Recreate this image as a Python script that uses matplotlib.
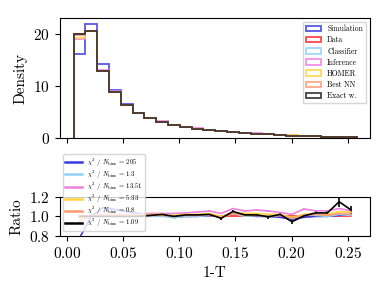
import numpy as np
import matplotlib
matplotlib.use('Agg')
import matplotlib.pyplot as plt
from matplotlib.lines import Line2D

plt.rcParams['font.family'] = 'serif'
plt.rcParams['font.serif'] = ['cmr10']
plt.rcParams['mathtext.fontset'] = 'cm'
plt.rcParams['axes.formatter.use_mathtext'] = True
plt.rcParams['font.size'] = 11

# bin edges of 1-T
edges = np.linspace(0.006, 0.258, 25)
centers = 0.5 * (edges[1:] + edges[:-1])

# densities
data = [20.0, 20.7, 12.9, 8.8, 6.3, 4.8, 3.8, 3.1, 2.5, 2.1, 1.8, 1.55,
        1.35, 1.15, 1.0, 0.85, 0.72, 0.6, 0.5, 0.42, 0.34, 0.27, 0.2, 0.15]
simulation = [16.2, 22.0, 14.2, 9.3, 6.6, 4.9, 3.85, 3.1, 2.5, 2.1, 1.8, 1.56,
              1.35, 1.18, 1.0, 0.85, 0.72, 0.6, 0.49, 0.42, 0.34, 0.27, 0.2, 0.15]
classifier = [19.9, 20.7, 12.9, 8.8, 6.3, 4.8, 3.8, 3.1, 2.5, 2.1, 1.8, 1.56,
              1.35, 1.16, 1.0, 0.85, 0.72, 0.6, 0.5, 0.42, 0.34, 0.27, 0.2, 0.15]
inference = [19.0, 20.7, 13.1, 9.0, 6.4, 4.9, 3.9, 3.2, 2.6, 2.2, 1.9, 1.63,
             1.39, 1.24, 1.06, 0.91, 0.76, 0.62, 0.51, 0.45, 0.36, 0.29, 0.22, 0.16]
homer = [19.3, 20.6, 13.0, 8.9, 6.4, 4.9, 3.8, 3.15, 2.55, 2.15, 1.84, 1.58,
         1.36, 1.2, 1.03, 0.87, 0.73, 0.59, 0.51, 0.43, 0.35, 0.28, 0.21, 0.16]
best_nn = [19.8, 20.6, 13.0, 8.8, 6.3, 4.8, 3.8, 3.1, 2.52, 2.12, 1.82, 1.57,
           1.35, 1.18, 1.01, 0.86, 0.72, 0.59, 0.5, 0.42, 0.34, 0.27, 0.2, 0.15]
exact = [20.0, 20.7, 12.9, 8.8, 6.3, 4.8, 3.84, 3.17, 2.5, 2.13, 1.83, 1.58,
         1.33, 1.21, 1.02, 0.86, 0.72, 0.61, 0.47, 0.42, 0.35, 0.28, 0.23, 0.16]

# ratios to data
r_sim = [0.78, 1.0, 1.09, 1.07, 1.05, 1.03, 1.02, 1.01, 0.99, 1.0, 1.0, 1.01,
         1.0, 1.03, 1.01, 1.0, 1.0, 0.99, 0.97, 0.99, 1.0, 1.0, 1.01, 1.02]
r_cls = [0.99, 1.0, 1.0, 1.0, 1.0, 1.0, 1.0, 1.0, 0.985, 1.0, 1.0, 1.01,
         1.0, 1.03, 1.0, 1.01, 1.0, 1.01, 0.98, 1.02, 1.01, 1.0, 1.02, 1.01]
r_inf = [0.95, 1.0, 1.02, 1.02, 1.02, 1.02, 1.03, 1.03, 1.03, 1.035, 1.045, 1.055,
         1.03, 1.08, 1.055, 1.065, 1.055, 1.04, 1.02, 1.075, 1.057, 1.057, 1.08, 1.057]
r_homer = [0.97, 1.0, 1.01, 1.01, 1.01, 1.01, 1.02, 1.02, 1.01, 1.02, 1.02, 1.03,
           1.0, 1.04, 1.03, 1.03, 1.02, 1.02, 0.99, 1.02, 1.03, 1.02, 1.05, 1.04]
r_nn = [0.99, 1.0, 1.01, 1.0, 1.0, 1.0, 1.01, 1.01, 1.0, 1.01, 1.01, 1.02,
        0.99, 1.03, 1.01, 1.01, 1.0, 1.01, 0.98, 1.01, 1.02, 1.01, 1.03, 1.02]
r_exact = [1.0, 1.0, 1.0, 1.0, 1.0, 1.0, 1.01, 1.02, 1.0, 1.015, 1.015, 1.02,
           0.98, 1.05, 1.015, 1.015, 0.995, 1.02, 0.945, 1.005, 1.035, 1.035, 1.15, 1.065]
r_exact_err = [0.003, 0.003, 0.004, 0.005, 0.006, 0.007, 0.008, 0.009, 0.01, 0.011, 0.012, 0.013,
               0.014, 0.015, 0.016, 0.017, 0.018, 0.019, 0.02, 0.022, 0.024, 0.027, 0.05, 0.04]
r_data = [1.0] * 24

chi2 = ['205', '1.3', '13.51', '5.33', '0.8', '1.09']

labels = ['Simulation', 'Data', 'Classifier', 'Inference', 'HOMER', 'Best NN', 'Exact w.']
colors = ['#3a3ae0', '#ff2a2a', '#8fd0fa', '#f07ee0', '#ffd23c', '#ff9a70', '#222222']
hists = [simulation, data, classifier, inference, homer, best_nn, exact]

fig = plt.figure(figsize=(3.89, 2.92), dpi=100)
ax1 = fig.add_axes([0.154, 0.527, 0.797, 0.411])
ax2 = fig.add_axes([0.154, 0.192, 0.797, 0.134])

for h, c, l in zip(hists, colors, labels):
    ax1.hist(centers, bins=edges, weights=h, histtype='step', color=c,
             label=l, lw=1.3, alpha=0.85)

ax1.set_ylabel('Density')
ax1.set_xlim(-0.0062, 0.2696)
ax1.set_yticks([0, 10, 20])
ax1.set_xticks([0.0, 0.05, 0.10, 0.15, 0.20, 0.25])
ax1.set_xticklabels([])
ax1.legend(loc='upper right', fontsize=5.5, labelspacing=0.35)

ratios = [r_sim, r_cls, r_inf, r_homer, r_nn]
rcols = [colors[0], colors[2], colors[3], colors[4], colors[5]]
ax2.plot(centers, r_data, color=colors[1], lw=1.2)
handles = []
for r, c, s in zip(ratios, rcols, chi2[:5]):
    ax2.errorbar(centers, r, yerr=0.006, color=c, lw=1.2)
    handles.append(Line2D([], [], color=c, lw=1.8,
                          label=r'$\chi^2$ / $N_{\rm bins}$ = ' + s))
ax2.errorbar(centers, r_exact, yerr=r_exact_err, color='black', lw=1.2)
handles.append(Line2D([], [], color='black', lw=1.8,
                      label=r'$\chi^2$ / $N_{\rm bins}$ = ' + chi2[5]))

ax2.set_xlim(-0.0062, 0.2696)
ax2.set_ylim(0.8, 1.2)
ax2.set_yticks([0.8, 1.0, 1.2])
ax2.set_xticks([0.0, 0.05, 0.10, 0.15, 0.20, 0.25])
ax2.set_xlabel('1-T')
ax2.set_ylabel('Ratio')
ax2.legend(handles=handles, loc='lower left', bbox_to_anchor=(0.0, 0.03),
           fontsize=4.8, labelspacing=0.02, handlelength=2.5, borderpad=0.3)

plt.savefig('out.png', dpi=100)
